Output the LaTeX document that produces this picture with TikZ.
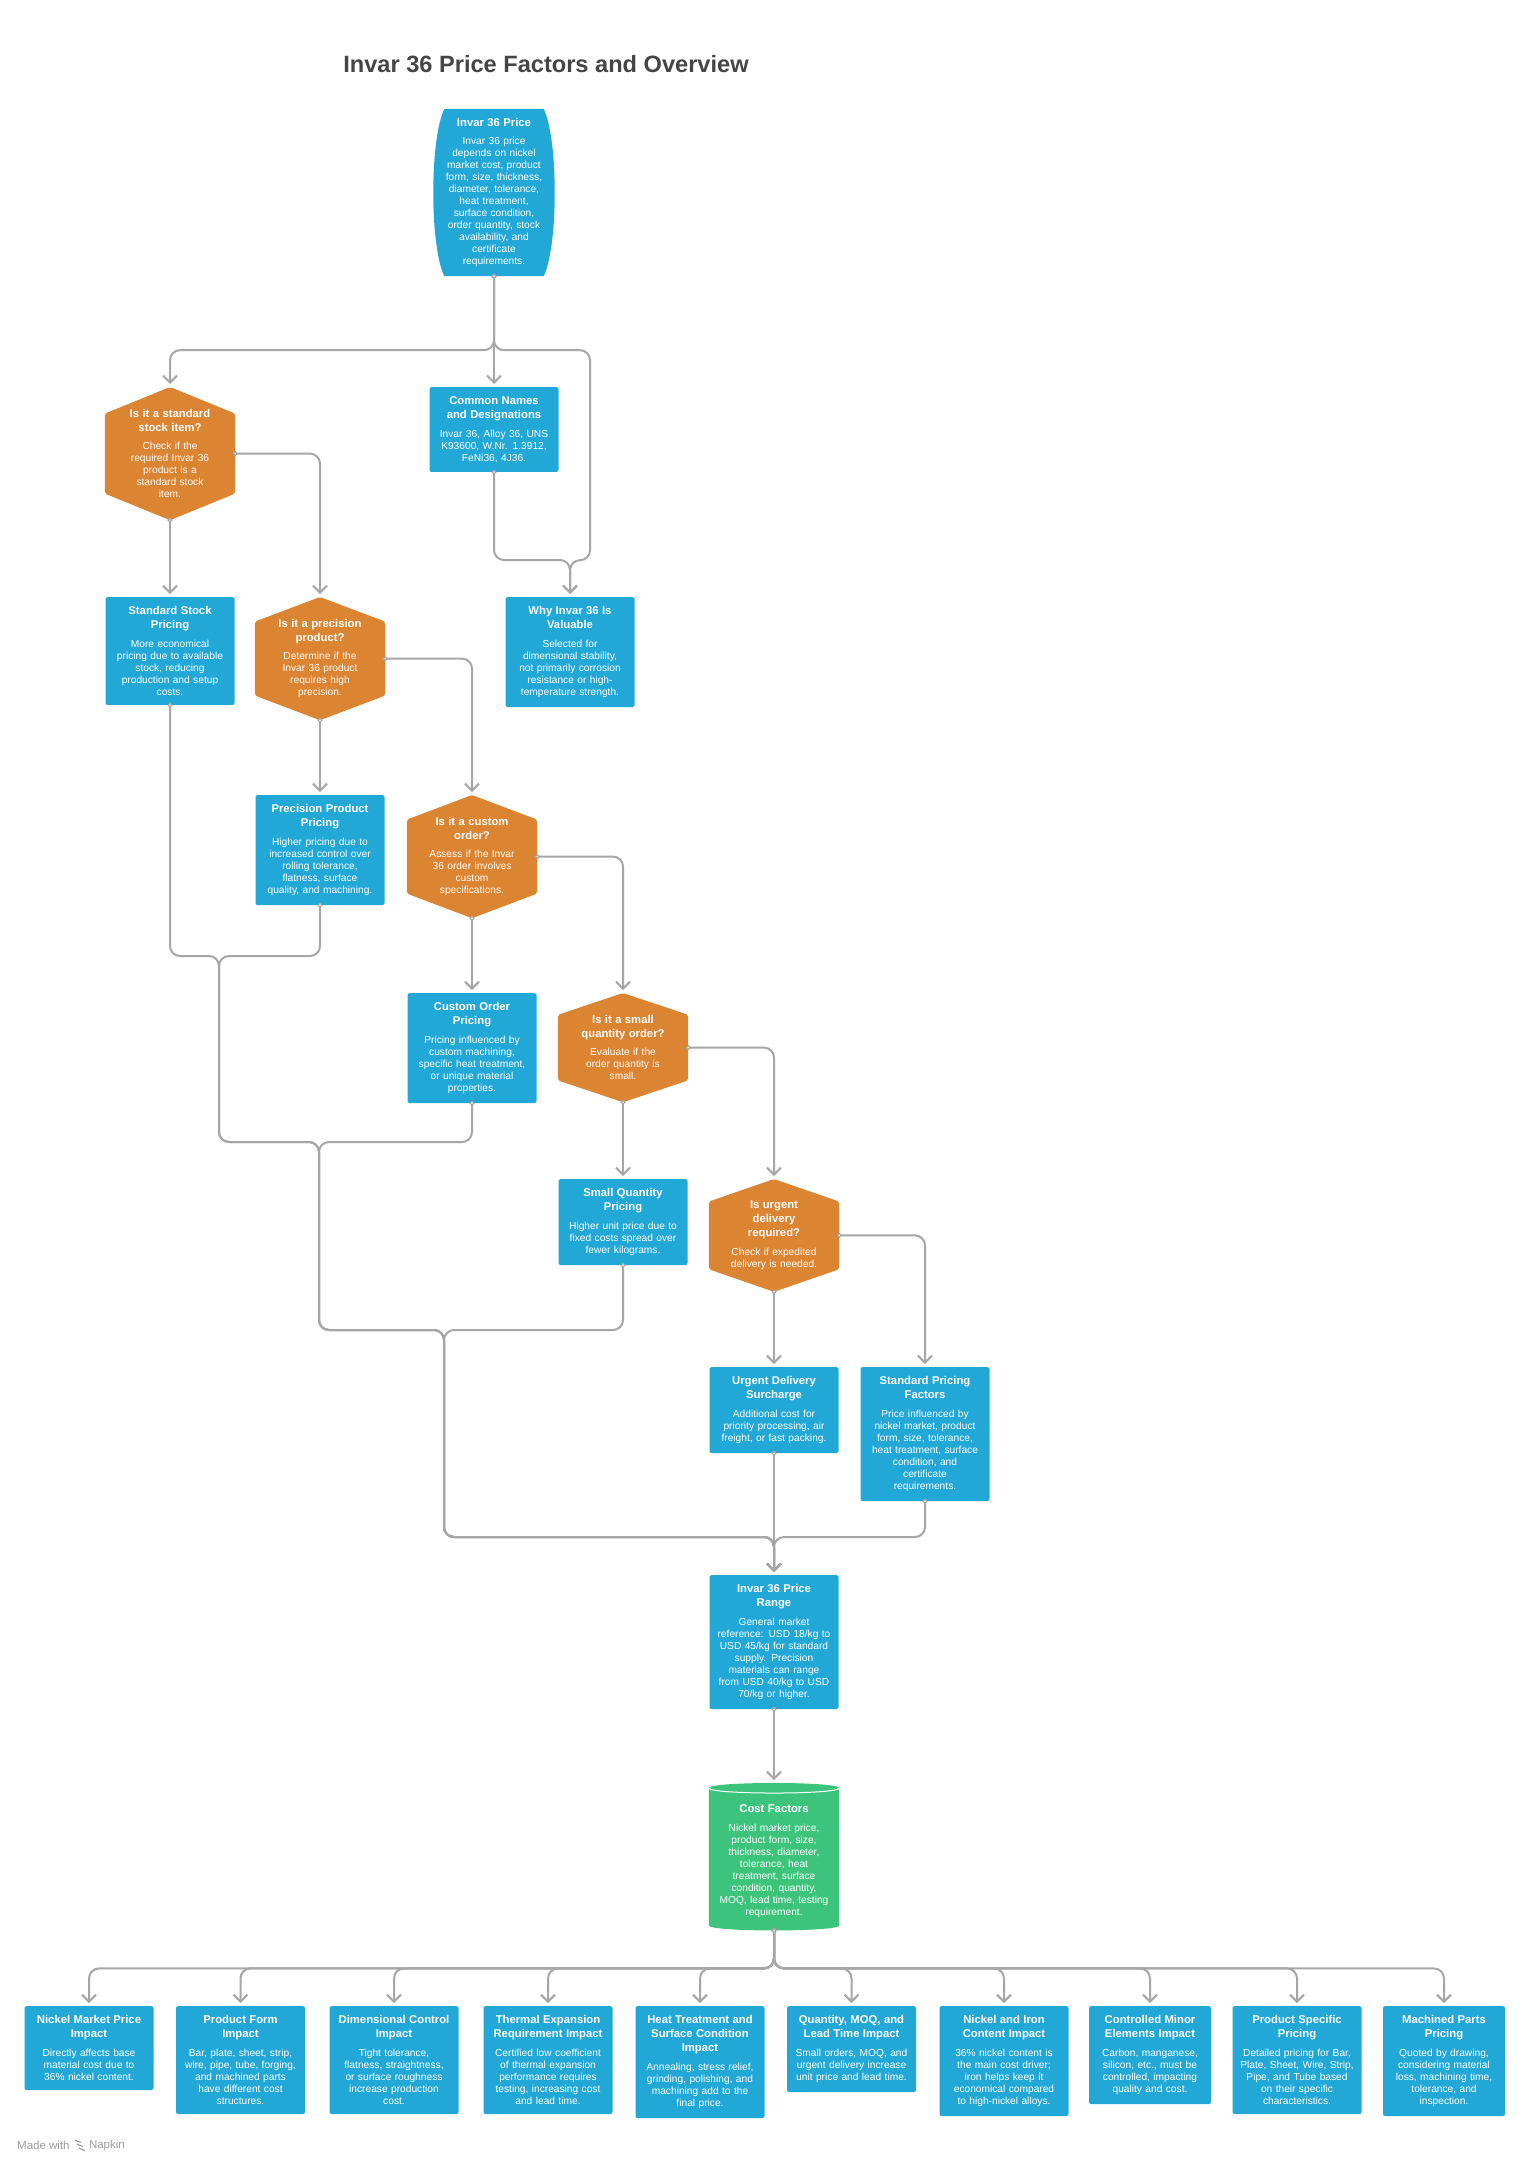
\documentclass[tikz,border=0pt]{standalone}
\usepackage{fontspec}
\setmainfont{Liberation Sans}
\usepackage{tikz}
\usetikzlibrary{arrows.meta,positioning,calc,backgrounds}
\definecolor{invarblue}{HTML}{21A8D6}
\definecolor{invarorange}{HTML}{DB8431}
\definecolor{invargreen}{HTML}{3CC47C}
\definecolor{invarline}{HTML}{A6A6A6}
\definecolor{invartitle}{HTML}{454545}
\definecolor{invarfoot}{HTML}{9C9C9C}
\newcommand{\bodysize}{\fontsize{10.2}{12}\selectfont}
\newcommand{\hd}[1]{{\fontsize{11.3}{14}\selectfont\bfseries #1\par}\vspace{6.5pt}}

\begin{document}
\begin{tikzpicture}[x=1pt, y=-1pt,
  every node/.style={font=\bodysize, text=white},
  overview/.style={align=center, text width=103pt, inner xsep=9pt, inner ysep=9pt, anchor=north},
  infobox/.style={fill=invarblue, rounded corners=2pt, align=center, text width=117pt,
                  inner xsep=6pt, inner ysep=9.5pt, anchor=north},
  question/.style={align=center, text width=100pt, inner xsep=15pt, inner ysep=22pt, anchor=north},
  store/.style={align=center, text width=118pt, inner xsep=6pt, minimum height=147pt, anchor=north},
  link/.style={draw=invarline, line width=2pt, rounded corners=10pt,
               {Circle[length=5pt, line width=1.2pt, fill=white]}-{Straight Barb[length=7pt, width=14pt]},
               shorten <=-2.5pt, shorten >=3pt},
  footer/.style={font=\fontsize{11.5}{13}\selectfont, text=invarfoot, inner sep=0pt}
]
\useasboundingbox (0,0) rectangle (1530,2167);

\node[font=\fontsize{23.6}{28}\selectfont\bfseries, text=invartitle] (title) at (546,64) {Invar 36 Price Factors and Overview};

\node[overview] (price) at (494,109) {\hd{Invar 36 Price}Invar 36 price\\depends on nickel\\market cost, product\\form, size, thickness,\\diameter, tolerance,\\heat treatment,\\surface condition,\\order quantity, stock\\availability, and\\certificate\\requirements.};

\node[question] (isstock) at (170,387) {\hd{Is it a standard\\stock item?}Check if the\\required Invar 36\\product is a\\standard stock\\item.};
\node[infobox] (names) at (494,387) {\hd{Common Names\\and Designations}Invar 36, Alloy 36, UNS\\K93600, W.Nr. 1.3912,\\FeNi36, 4J36.};
\node[infobox] (why) at (570,597) {\hd{Why Invar 36 Is\\Valuable}Selected for\\dimensional stability,\\not primarily corrosion\\resistance or high-\\temperature strength.};
\node[infobox] (stockprice) at (170,597) {\hd{Standard Stock\\Pricing}More economical\\pricing due to available\\stock, reducing\\production and setup\\costs.};
\node[question] (isprec) at (320,597) {\hd{Is it a precision\\product?}Determine if the\\Invar 36 product\\requires high\\precision.};
\node[infobox] (precprice) at (320,795) {\hd{Precision Product\\Pricing}Higher pricing due to\\increased control over\\rolling tolerance,\\flatness, surface\\quality, and machining.};
\node[question] (iscustom) at (472,795) {\hd{Is it a custom\\order?}Assess if the Invar\\36 order involves\\custom\\specifications.};
\node[infobox] (customprice) at (472,993) {\hd{Custom Order\\Pricing}Pricing influenced by\\custom machining,\\specific heat treatment,\\or unique material\\properties.};
\node[question] (issmall) at (623,993) {\hd{Is it a small\\quantity order?}Evaluate if the\\order quantity is\\small.};
\node[infobox] (smallprice) at (623,1179) {\hd{Small Quantity\\Pricing}Higher unit price due to\\fixed costs spread over\\fewer kilograms.};
\node[question] (isurgent) at (774,1179) {\hd{Is urgent\\delivery\\required?}Check if expedited\\delivery is needed.};
\node[infobox] (urgentprice) at (774,1367) {\hd{Urgent Delivery\\Surcharge}Additional cost for\\priority processing, air\\freight, or fast packing.};
\node[infobox] (stdfactors) at (925,1367) {\hd{Standard Pricing\\Factors}Price influenced by\\nickel market, product\\form, size, tolerance,\\heat treatment, surface\\condition, and\\certificate\\requirements.};
\node[infobox] (range) at (774,1575) {\hd{Invar 36 Price\\Range}General market\\reference: USD 18/kg to\\USD 45/kg for standard\\supply. Precision\\materials can range\\from USD 40/kg to USD\\70/kg or higher.};
\node[store] (costs) at (774,1783) {\hd{\rule{0pt}{17pt}Cost Factors}Nickel market price,\\product form, size,\\thickness, diameter,\\tolerance, heat\\treatment, surface\\condition, quantity,\\MOQ, lead time, testing\\requirement.};

\node[infobox] (f1) at (89,2006) {\hd{Nickel Market Price\\Impact}Directly affects base\\material cost due to\\36\% nickel content.};
\node[infobox] (f2) at (240.5,2006) {\hd{Product Form\\Impact}Bar, plate, sheet, strip,\\wire, pipe, tube, forging,\\and machined parts\\have different cost\\structures.};
\node[infobox] (f3) at (394,2006) {\hd{Dimensional Control\\Impact}Tight tolerance,\\flatness, straightness,\\or surface roughness\\increase production\\cost.};
\node[infobox] (f4) at (548,2006) {\hd{Thermal Expansion\\Requirement Impact}Certified low coefficient\\of thermal expansion\\performance requires\\testing, increasing cost\\and lead time.};
\node[infobox] (f5) at (700,2006) {\hd{Heat Treatment and\\Surface Condition\\Impact}Annealing, stress relief,\\grinding, polishing, and\\machining add to the\\final price.};
\node[infobox] (f6) at (851.5,2006) {\hd{Quantity, MOQ, and\\Lead Time Impact}Small orders, MOQ, and\\urgent delivery increase\\unit price and lead time.};
\node[infobox] (f7) at (1004,2006) {\hd{Nickel and Iron\\Content Impact}36\% nickel content is\\the main cost driver;\\iron helps keep it\\economical compared\\to high-nickel alloys.};
\node[infobox, text width=110pt] (f8) at (1150,2006) {\hd{Controlled Minor\\Elements Impact}Carbon, manganese,\\silicon, etc., must be\\controlled, impacting\\quality and cost.};
\node[infobox] (f9) at (1297,2006) {\hd{Product Specific\\Pricing}Detailed pricing for Bar,\\Plate, Sheet, Wire, Strip,\\Pipe, and Tube based\\on their specific\\characteristics.};
\node[infobox, text width=110pt] (f10) at (1444,2006) {\hd{Machined Parts\\Pricing}Quoted by drawing,\\considering material\\loss, machining time,\\tolerance, and\\inspection.};

\node[footer, anchor=west] (madewith) at (17,2145) {Made with};
\node[footer, right=19pt of madewith] (napkin) {Napkin};

\begin{scope}[on background layer]
  \fill[white] (0,0) rectangle (1530,2167);
  \fill[invarblue] ($(price.north west)+(11,0)$) -- ($(price.north east)+(-11,0)$)
    .. controls ($(price.north east)+(3.7,30)$) and ($(price.south east)+(3.7,-30)$) .. ($(price.south east)+(-11,0)$)
    -- ($(price.south west)+(11,0)$)
    .. controls ($(price.south west)+(-3.7,-30)$) and ($(price.north west)+(-3.7,30)$) .. cycle;
  \foreach \q in {isstock,isprec,iscustom,issmall,isurgent}
    \fill[invarorange, rounded corners=2pt] (\q.north) -- ($(\q.north east)!0.2!(\q.south east)$)
      -- ($(\q.north east)!0.8!(\q.south east)$) -- (\q.south)
      -- ($(\q.north west)!0.8!(\q.south west)$) -- ($(\q.north west)!0.2!(\q.south west)$) -- cycle;
  \fill[invargreen] ($(costs.north west)+(0,5)$) -- ($(costs.south west)+(0,-5)$)
    .. controls ($(costs.south west)+(0,1.7)$) and ($(costs.south east)+(0,1.7)$) .. ($(costs.south east)+(0,-5)$)
    -- ($(costs.north east)+(0,5)$)
    .. controls ($(costs.north east)+(0,-1.7)$) and ($(costs.north west)+(0,-1.7)$) .. cycle;
  \draw[white, line width=1pt] ($(costs.north west)+(0,5)$)
    .. controls ($(costs.north west)+(0,11.7)$) and ($(costs.north east)+(0,11.7)$) .. ($(costs.north east)+(0,5)$);
\end{scope}

\foreach \k in {0,1,2}
  \draw[invarfoot, line width=1.1pt] ($(madewith.east)+(5+2*\k,-5+4*\k)$) -- ++(6,2.5);

\coordinate (j1) at (219,956);
\coordinate (j2) at (319,1142);
\coordinate (j3) at (444,1330);
\coordinate (j4) at (774,1537);

\draw[link] (price.south) -- ++(0,74) -| (isstock.north);
\draw[link] (price.south) -- (names.north);
\draw[link] (price.south) -- ++(0,74) -| ++(96,210) -| (why.north);
\draw[link] (names.south) |- ($(why.north)+(0,-37)$) -- (why.north);
\draw[link] (isstock.east) -| (isprec.north);
\draw[link] (isstock.south) -- (stockprice.north);
\draw[link] (isprec.east) -| (iscustom.north);
\draw[link] (isprec.south) -- (precprice.north);
\draw[link] (iscustom.east) -| (issmall.north);
\draw[link] (iscustom.south) -- (customprice.north);
\draw[link] (issmall.east) -| (isurgent.north);
\draw[link] (issmall.south) -- (smallprice.north);
\draw[link] (isurgent.east) -| (stdfactors.north);
\draw[link] (isurgent.south) -- (urgentprice.north);
\draw[link] (stockprice.south) |- (j1) |- (j2) |- (j3) |- (j4) -- (range.north);
\draw[link] (precprice.south) |- (j1) |- (j2) |- (j3) |- (j4) -- (range.north);
\draw[link] (customprice.south) |- (j2) |- (j3) |- (j4) -- (range.north);
\draw[link] (smallprice.south) |- (j3) |- (j4) -- (range.north);
\draw[link] (urgentprice.south) -- (range.north);
\draw[link] (stdfactors.south) |- (j4) -- (range.north);
\draw[link] (range.south) -- (costs.north);
\foreach \i in {1,...,10}
  \draw[link] (costs.south) -- ++(0,38) -| (f\i.north);
\end{tikzpicture}
\end{document}
